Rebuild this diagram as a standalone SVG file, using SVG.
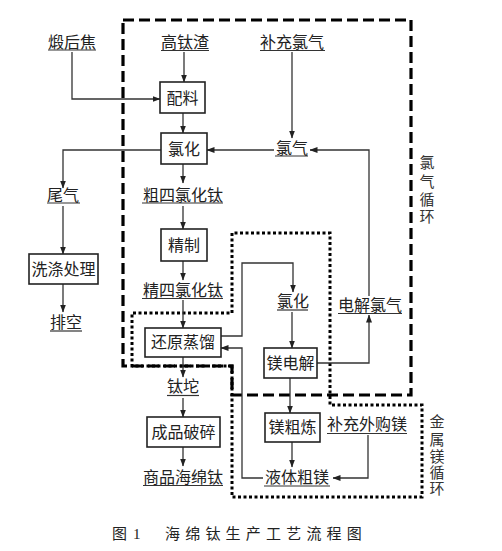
<svg xmlns="http://www.w3.org/2000/svg" width="502" height="551" viewBox="0 0 502 551">
<defs>
<marker id="ah" markerUnits="userSpaceOnUse" markerWidth="8" markerHeight="6" refX="7.5" refY="3" orient="auto">
<path d="M0,0 L8,3 L0,6 Z" fill="#222"/>
</marker>
<style>
.t{font-family:"Liberation Serif","Noto Sans CJK SC",serif;font-size:16px;fill:#222;text-anchor:middle}
.v{font-family:"Liberation Serif","Noto Sans CJK SC",serif;font-size:15px;fill:#333;text-anchor:middle}
.u{stroke:#333;stroke-width:1.2}
.b{fill:#fff;stroke:#222;stroke-width:1.6}
.c{fill:none;stroke:#333;stroke-width:1.3;marker-end:url(#ah)}
.dash{fill:none;stroke:#000;stroke-width:3.2;stroke-dasharray:11 5}
.dot{fill:none;stroke:#000;stroke-width:3;stroke-dasharray:3 2.5}
.cap{font-family:"Liberation Serif","Noto Sans CJK SC",serif;font-size:15px;fill:#222}
</style>
</defs>
<rect width="502" height="551" fill="#fff"/>

<g id="loops">
<path class="dash" d="M123,20 H411 V395 H232 V366 H123 Z"/>
<path class="dot" d="M232,366 H132 V313 H232 V233 H330 V405 H422 V497 H232 Z"/>
</g>

<g id="connectors">
<path class="c" d="M184,52 V82"/>
<path class="c" d="M72,52 V99 H160"/>
<path class="c" d="M183,113 V133"/>
<path class="c" d="M292,52 V138"/>
<path class="c" d="M274,150 H207"/>
<path class="c" d="M161,150 H63 V188"/>
<path class="c" d="M183,164 V183"/>
<path class="c" d="M183,206 V229"/>
<path class="c" d="M183,261 V280"/>
<path class="c" d="M183,300 V328"/>
<path class="c" d="M221,336 H242 V263 H293 V292"/>
<path class="c" d="M263,478 H242 V348 H221"/>
<path class="c" d="M292,312 V348"/>
<path class="c" d="M317,363 H369 V315"/>
<path class="c" d="M369,296 V150 H310"/>
<path class="c" d="M290,378 V413"/>
<path class="c" d="M292,442 V467"/>
<path class="c" d="M368,435 V478 H333"/>
<path class="c" d="M183,357 V377"/>
<path class="c" d="M183,398 V417"/>
<path class="c" d="M183,447 V466"/>
<path class="c" d="M63,206 V254"/>
<path class="c" d="M63,284 V312"/>
</g>

<g id="n-duanhoujiao"><text class="t" x="72" y="48">煅后焦</text><line class="u" x1="48" y1="50" x2="96" y2="50"/></g>
<g id="n-gaotaizha"><text class="t" x="185" y="48">高钛渣</text><line class="u" x1="161" y1="50.5" x2="209" y2="50.5"/></g>
<g id="n-buchonglvqi"><text class="t" x="292" y="48">补充氯气</text><line class="u" x1="260" y1="50.5" x2="325" y2="50.5"/></g>
<g id="n-peiliao"><rect class="b" x="160" y="82" width="45" height="31"/><text class="t" x="182.5" y="104">配料</text></g>
<g id="n-lvhua"><rect class="b" x="161" y="133" width="46" height="31"/><text class="t" x="184" y="155">氯化</text></g>
<g id="n-lvqi"><text class="t" x="292" y="154">氯气</text><line class="u" x1="275" y1="156" x2="308" y2="156"/></g>
<g id="n-weiqi"><text class="t" x="63" y="201">尾气</text><line class="u" x1="47" y1="203" x2="80" y2="203"/></g>
<g id="n-cusilvhuatai"><text class="t" x="183" y="201">粗四氯化钛</text><line class="u" x1="142" y1="203" x2="223" y2="203"/></g>
<g id="n-jingzhi"><rect class="b" x="161" y="229" width="46" height="32"/><text class="t" x="184" y="251">精制</text></g>
<g id="n-jingsilvhuatai"><text class="t" x="183" y="296">精四氯化钛</text><line class="u" x1="142" y1="298.5" x2="223" y2="298.5"/></g>
<g id="n-xidichuli"><rect class="b" x="29" y="254" width="69" height="30"/><text class="t" x="63.5" y="275">洗涤处理</text></g>
<g id="n-paikong"><text class="t" x="66" y="328">排空</text><line class="u" x1="50" y1="331" x2="82" y2="331"/></g>
<g id="n-huanyuanzhengliu"><rect class="b" x="145" y="328" width="76" height="29"/><text class="t" x="183" y="348">还原蒸馏</text></g>
<g id="n-lvhua2"><text class="t" x="293" y="307">氯化</text><line class="u" x1="277" y1="310" x2="308" y2="310"/></g>
<g id="n-dianjielvqi"><text class="t" x="370" y="311">电解氯气</text><line class="u" x1="338" y1="313.5" x2="402" y2="313.5"/></g>
<g id="n-meidianjie"><rect class="b" x="264" y="348" width="53" height="30"/><text class="t" x="290.5" y="369">镁电解</text></g>
<g id="n-taituo"><text class="t" x="183" y="392">钛坨</text><line class="u" x1="167" y1="395.5" x2="199" y2="395.5"/></g>
<g id="n-chengpinposui"><rect class="b" x="147" y="417" width="73" height="30"/><text class="t" x="183.5" y="438">成品破碎</text></g>
<g id="n-meiculian"><rect class="b" x="265" y="413" width="55" height="29"/><text class="t" x="292.5" y="433">镁粗炼</text></g>
<g id="n-buchongwaigoumei"><text class="t" x="367" y="430">补充外购镁</text><line class="u" x1="327" y1="433.5" x2="407" y2="433.5"/></g>
<g id="n-yeticumei"><text class="t" x="297" y="483">液体粗镁</text><line class="u" x1="264" y1="486" x2="330" y2="486"/></g>
<g id="n-shangpinhaimiantai"><text class="t" x="183" y="483">商品海绵钛</text><line class="u" x1="143" y1="485.5" x2="223" y2="485.5"/></g>

<g id="label-lvqixunhuan">
<text class="v" x="427" y="168">氯</text>
<text class="v" x="427" y="187">气</text>
<text class="v" x="427" y="205">循</text>
<text class="v" x="427" y="222">环</text>
</g>
<g id="label-jinshumeixunhuan">
<text class="v" x="437" y="427">金</text>
<text class="v" x="437" y="445">属</text>
<text class="v" x="437" y="462">镁</text>
<text class="v" x="437" y="478">循</text>
<text class="v" x="437" y="494">环</text>
</g>

<g id="caption">
<text class="cap" x="112" y="539">图</text>
<text class="cap" x="133" y="539">1</text>
<text class="cap" x="165" y="539" letter-spacing="5.2">海绵钛生产工艺流程图</text>
</g>
</svg>
